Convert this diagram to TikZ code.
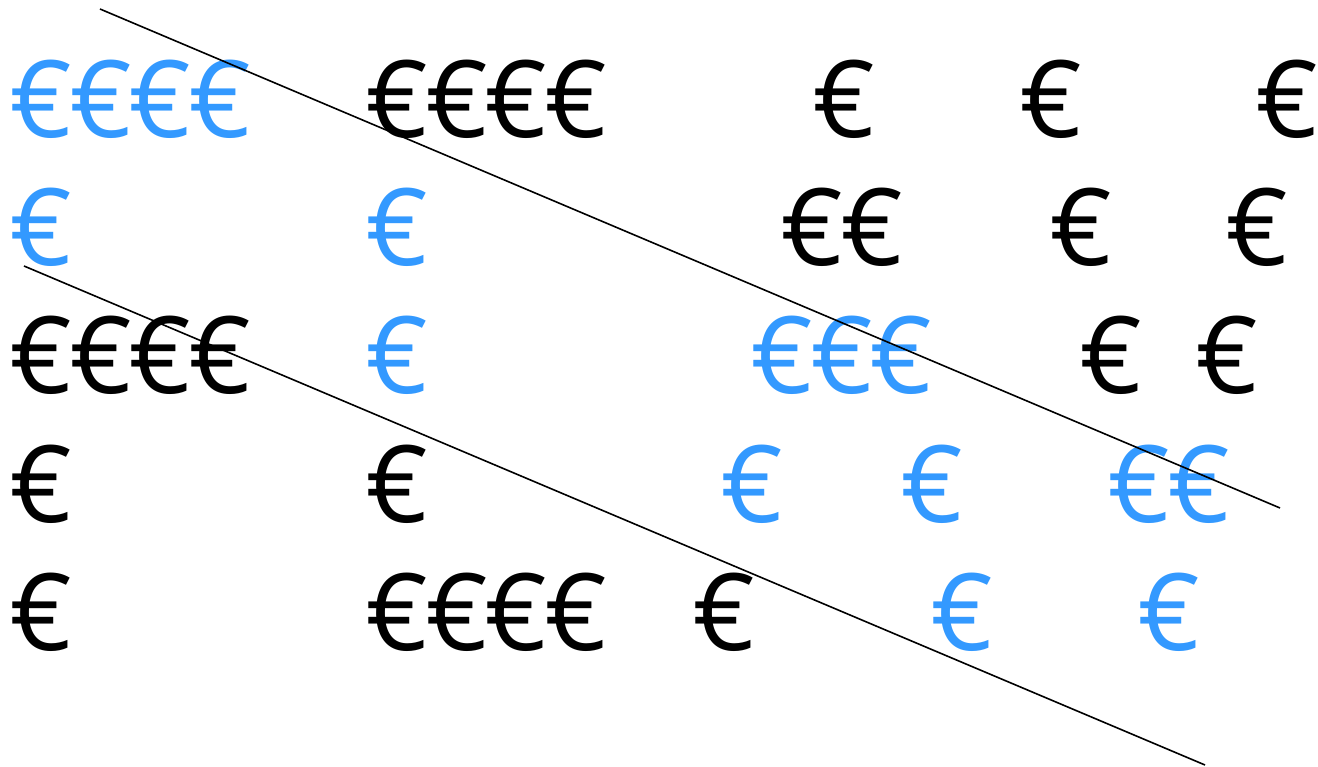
\documentclass[tikz,border=0pt]{standalone}
\usepackage{fontspec}
\setmainfont{Open Sans}
\newfontfamily\coinfont[LetterSpace=-3.2]{Open Sans}
\usetikzlibrary{positioning}
\definecolor{eurblue}{HTML}{3399FF}

\begin{document}
\begin{tikzpicture}[
    x=1pt, y=-1pt,
    % one group of euro signs
    coin/.style={
        inner sep=0pt,
        anchor=base west,
        font=\coinfont\fontsize{107}{107}\selectfont
    },
    bluecoin/.style={coin, text=eurblue},
    cut/.style={line width=1.6pt}
]
    \useasboundingbox (0,0) rectangle (1318,767);

    % --- Row 1 ---
    \node[bluecoin] (r1a) at (9,138) {€€€€};
    \node[coin]     (r1b) at (365,138) {€€€€};
    \node[coin]     (r1c) at (812,138) {€};
    \node[coin]     (r1d) at (1019,138) {€};
    \node[coin]     (r1e) at (1255,138) {€};

    % --- Row 2 ---
    \node[bluecoin] (r2a) at (9,266) {€};
    \node[bluecoin] (r2b) at (365,266) {€};
    \node[coin]     (r2c) at (780,266) {€€};
    \node[coin]     (r2d) at (1049,266) {€};
    \node[coin]     (r2e) at (1225,266) {€};

    % --- Row 3 ---
    \node[coin]     (r3a) at (9,394) {€€€€};
    \node[bluecoin] (r3b) at (365,394) {€};
    \node[bluecoin] (r3c) at (750,394) {€€€};
    \node[coin]     (r3d) at (1079,394) {€};
    \node[coin]     (r3e) at (1195,394) {€};

    % --- Row 4 ---
    \node[coin]     (r4a) at (9,522) {€};
    \node[coin]     (r4b) at (365,522) {€};
    \node[bluecoin] (r4c) at (720,522) {€};
    \node[bluecoin] (r4d) at (900,522) {€};
    \node[bluecoin] (r4e) at (1107,522) {€€};

    % --- Row 5 ---
    \node[coin]     (r5a) at (9,650) {€};
    \node[coin]     (r5b) at (365,650) {€€€€};
    \node[coin]     (r5c) at (692,650) {€};
    \node[bluecoin] (r5d) at (930,650) {€};
    \node[bluecoin] (r5e) at (1137,650) {€};

    % --- Lines ---
    \coordinate (upA) at (100,9);
    \coordinate (upB) at (1280,508);
    \coordinate (loA) at (24,266);
    \coordinate (loB) at (1205,765);
    \draw[cut] (upA) -- (upB);
    \draw[cut] (loA) -- (loB);

\end{tikzpicture}
\end{document}
